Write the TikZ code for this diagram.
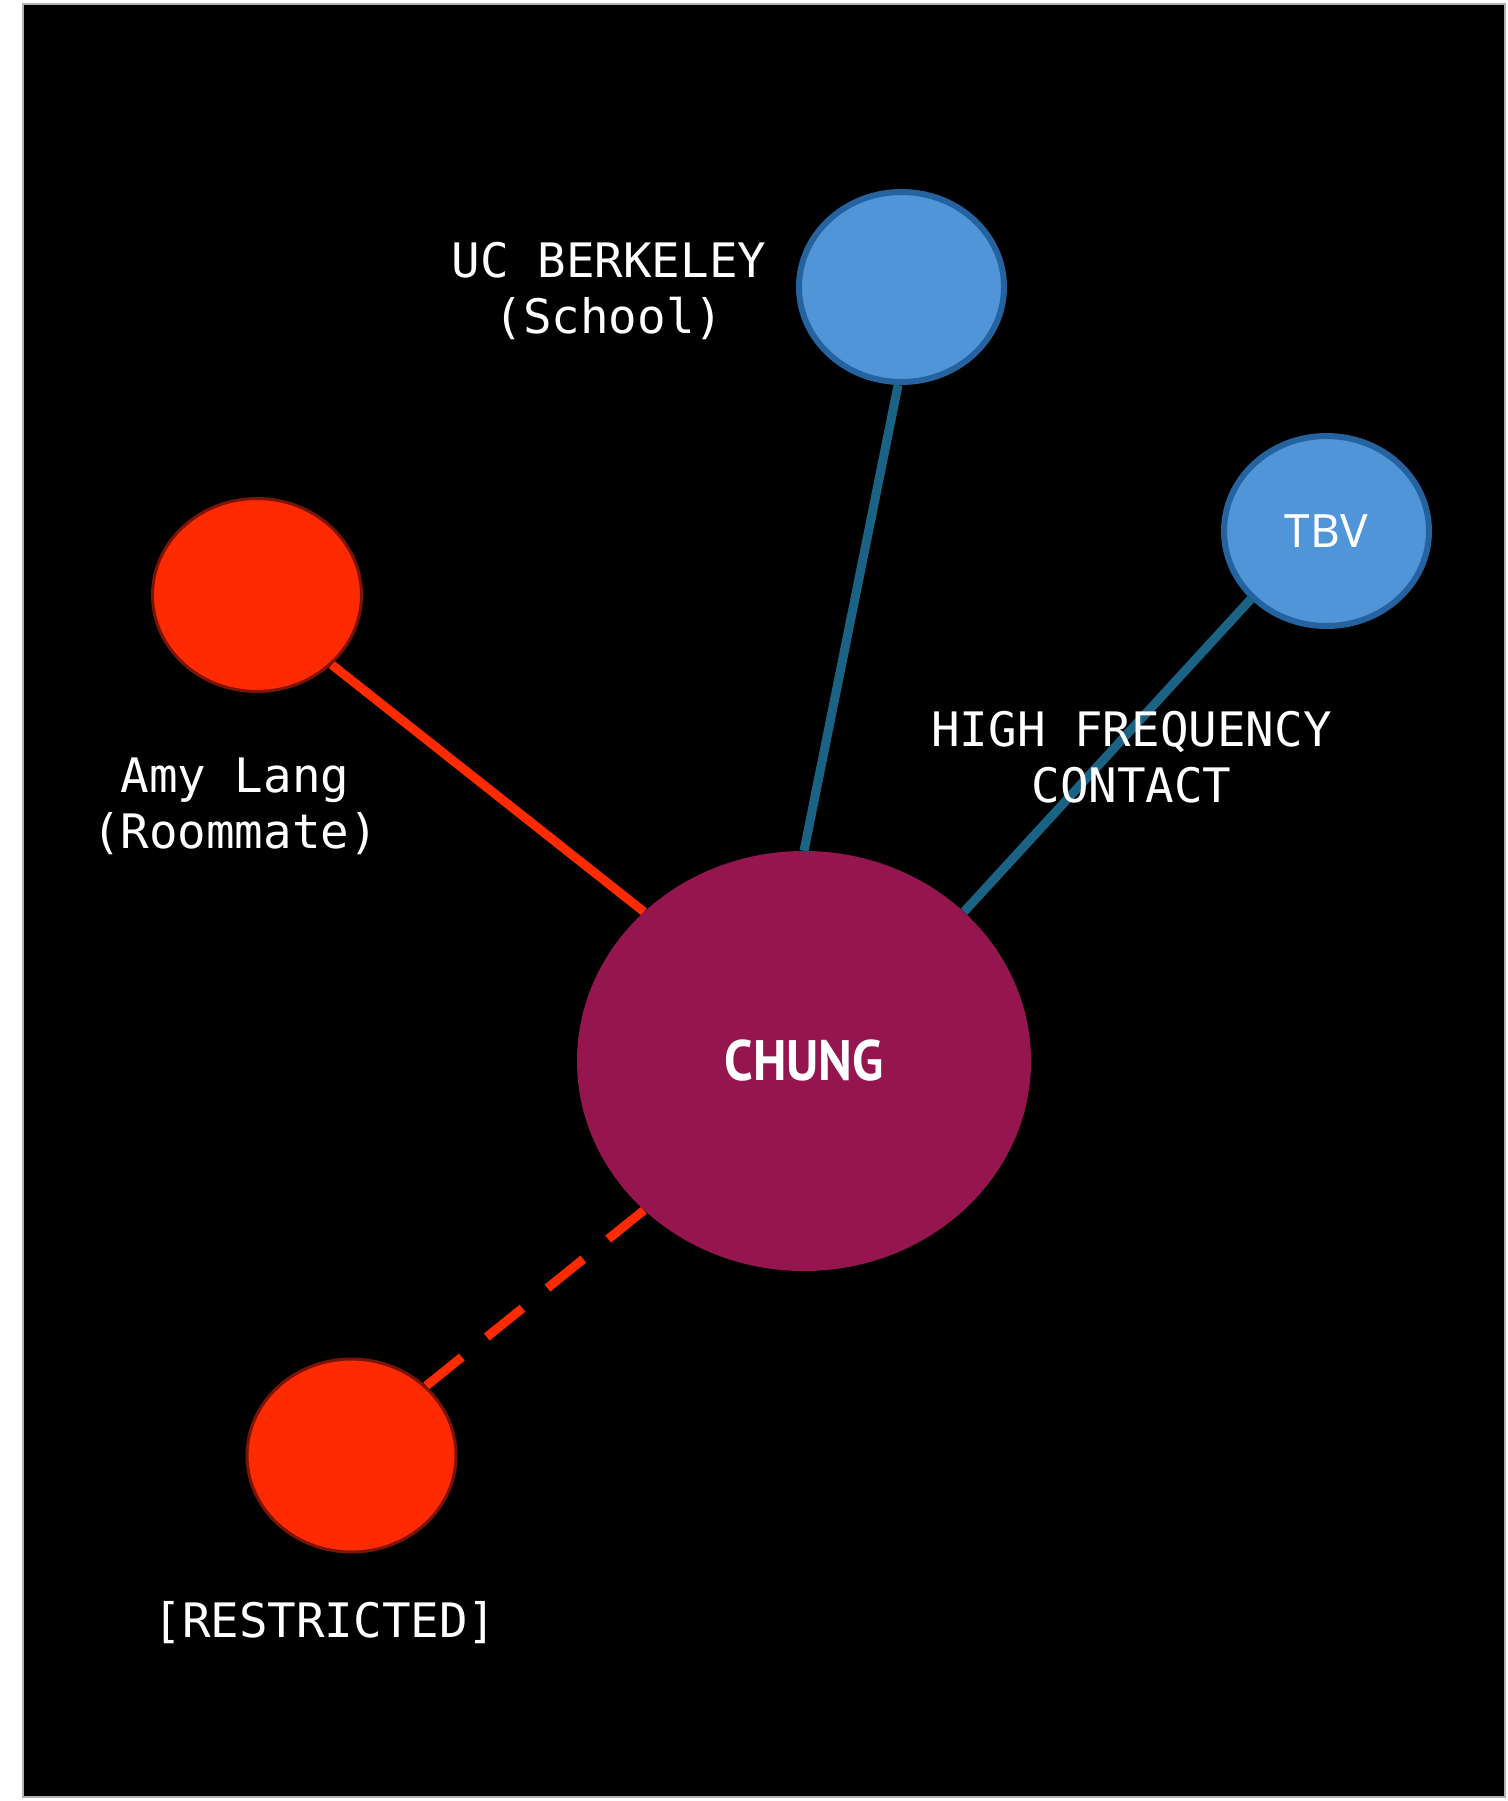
\documentclass[tikz,border=0pt]{standalone}
\usepackage{fontspec}
\setmonofont{DejaVu Sans Mono}
\newfontfamily\namefont[FakeStretch=0.9]{PT Sans}
\newfontfamily\tagfont{Noto Sans}
\usetikzlibrary{shapes.geometric,backgrounds}
\pgfdeclarelayer{edges}
\pgfsetlayers{background,edges,main}

\definecolor{chungred}{HTML}{95164F}
\definecolor{hotred}{HTML}{FF2A00}
\definecolor{darkrim}{HTML}{7A1408}
\definecolor{skyblue}{HTML}{4F95D8}
\definecolor{rimblue}{HTML}{2563A0}
\definecolor{linkblue}{HTML}{1A6385}

\tikzset{
  blob/.style={ellipse, inner sep=0pt},
  suspect/.style={blob, fill=chungred, minimum width=454pt, minimum height=420pt,
    text=white, font=\namefont\bfseries\fontsize{57}{60}\selectfont},
  bluecontact/.style={blob, fill=skyblue, draw=rimblue, line width=6pt,
    minimum width=205pt, minimum height=190pt,
    text=white, font=\tagfont\fontsize{46}{50}\selectfont},
  redcontact/.style={blob, fill=hotred, draw=darkrim, line width=3pt,
    minimum width=209pt, minimum height=193pt},
  tag/.style={text=white, align=center, anchor=base, inner sep=0pt,
    font=\ttfamily\fontsize{47.5}{56}\selectfont},
  redlink/.style={draw=hotred, line width=9pt},
  bluelink/.style={draw=linkblue, line width=9pt}
}

\begin{document}
\begin{tikzpicture}[x=1pt, y=-1pt]
  \useasboundingbox (0,0) rectangle (1507,1801);
  \begin{pgfonlayer}{background}
    \fill[white] (0,0) rectangle (1507,1801);
    \draw[fill=black, draw=gray!60, line width=1.5pt] (23,4) rectangle (1505,1797);
  \end{pgfonlayer}

  % people and places
  \node[suspect] (chung) at (804,1061) {CHUNG};
  \node[bluecontact] (berkeley) at (901.5,287) {};
  \node[bluecontact] (tbv) at (1326.5,531) {TBV};
  \node[redcontact] (amy) at (257,595) {};
  \node[redcontact] (restricted) at (351.5,1455.5) {};

  % labels (base = last line)
  \node[tag] (berkeleytag) at (609,333) {UC BERKELEY\\(School)};
  \node[tag] (amytag) at (235,848) {Amy Lang\\(Roommate)};
  \node[tag] (freqtag) at (1131.5,802) {HIGH FREQUENCY\\CONTACT};
  \node[tag] (restrictedtag) at (325,1637) {[RESTRICTED]};

  % links
  \begin{pgfonlayer}{edges}
    \draw[redlink] (amy.-43) -- (chung.137);
    \draw[bluelink] (berkeley.-92) -- (chung.90);
    \draw[bluelink] (tbv.-138) -- (chung.43);
    \draw[redlink, dash pattern=on 46pt off 32pt] (chung.223) -- (restricted.43);
  \end{pgfonlayer}
\end{tikzpicture}
\end{document}
